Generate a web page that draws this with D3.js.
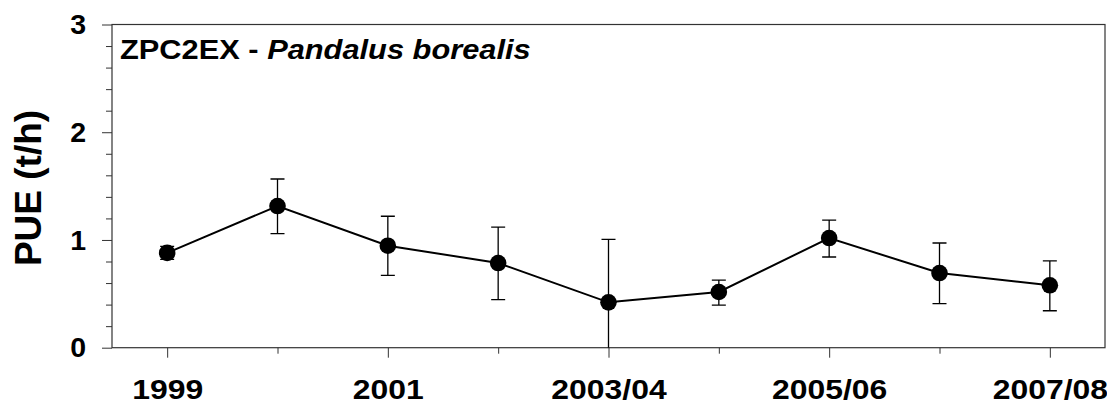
<!DOCTYPE html>
<html>
<head>
<meta charset="utf-8">
<script src="https://cdn.jsdelivr.net/npm/d3@7"></script>
<style>
  html, body { margin: 0; padding: 0; background: #fff; }
  svg { display: block; }
  text { font-family: "Liberation Sans", Arial, sans-serif; font-weight: bold; fill: #000; }
</style>
</head>
<body>
<svg id="chart" width="1107" height="402"></svg>
<script>
// ---- data ----
const categories = ["1999", "2000", "2001", "2002", "2003/04", "2004/05", "2005/06", "2006/07", "2007/08"];
const labeledCategories = ["1999", "2001", "2003/04", "2005/06", "2007/08"];
const pue = [0.88, 1.315, 0.947, 0.786, 0.421, 0.517, 1.018, 0.693, 0.579];
const pueUpper = [0.94, 1.566, 1.22, 1.12, 1.006, 0.628, 1.185, 0.972, 0.805];
const pueLower = [0.82, 1.058, 0.672, 0.446, -0.17, 0.396, 0.842, 0.409, 0.343];
const yMajorTicks = [0, 1, 2, 3];
const yMinorTicks = [0.2, 0.4, 0.6, 0.8, 1.2, 1.4, 1.6, 1.8, 2.2, 2.4, 2.6, 2.8];
const titleCode = "ZPC2EX - ";
const titleSpecies = "Pandalus borealis";
const yTitle = "PUE (t/h)";

// ---- layout ----
const svg = d3.select("#chart");
const L = 112, R = 1105, T = 24.5, B = 347.7;
const axisColor = "#333";

const x = d3.scaleLinear().domain([-0.5, categories.length - 0.5]).range([L, R]);
const y = d3.scaleLinear().domain([0, 3]).range([B, T]);

const idx = categories.map((d, i) => i);
const majorIdx = idx.filter(i => labeledCategories.includes(categories[i]));
const minorIdx = idx.filter(i => !labeledCategories.includes(categories[i]));

// x axis major
const gxMaj = svg.append("g").attr("transform", `translate(0,${B})`)
  .call(d3.axisBottom(x).tickValues(majorIdx).tickSize(10).tickPadding(21.5)
        .tickFormat(i => categories[i]));
gxMaj.select(".domain").remove();
gxMaj.selectAll("line").attr("stroke", axisColor);
gxMaj.selectAll("text").style("font-size", "28.5px").attr("fill", "#000")
  .attr("transform", "scale(1.12,1)");

const gxMin = svg.append("g").attr("transform", `translate(0,${B})`)
  .call(d3.axisBottom(x).tickValues(minorIdx).tickSize(6).tickFormat(""));
gxMin.select(".domain").remove();
gxMin.selectAll("line").attr("stroke", axisColor);

// y axis
const gyMaj = svg.append("g").attr("transform", `translate(${L},0)`)
  .call(d3.axisLeft(y).tickValues(yMajorTicks).tickSize(10).tickPadding(16)
        .tickFormat(d3.format("d")));
gyMaj.select(".domain").remove();
gyMaj.selectAll("line").attr("stroke", axisColor);
gyMaj.selectAll("text").style("font-size", "28.5px").attr("fill", "#000");

const gyMin = svg.append("g").attr("transform", `translate(${L},0)`)
  .call(d3.axisLeft(y).tickValues(yMinorTicks).tickSize(6).tickFormat(""));
gyMin.select(".domain").remove();
gyMin.selectAll("line").attr("stroke", axisColor);

// frame
svg.append("rect").attr("x", L).attr("y", T).attr("width", R - L).attr("height", B - T)
  .attr("fill", "none").attr("stroke", axisColor).attr("stroke-width", 1.2);

// clip
svg.append("clipPath").attr("id", "plotclip").append("rect")
  .attr("x", L).attr("y", T).attr("width", R - L).attr("height", B - T);

const plot = svg.append("g").attr("clip-path", "url(#plotclip)");

// error bars
const capW = 7;
const eb = plot.append("g").attr("stroke", "#000").attr("stroke-width", 1.3);
idx.forEach(i => {
  eb.append("line").attr("x1", x(i)).attr("x2", x(i)).attr("y1", y(pueLower[i])).attr("y2", y(pueUpper[i]));
  eb.append("line").attr("x1", x(i) - capW).attr("x2", x(i) + capW).attr("y1", y(pueUpper[i])).attr("y2", y(pueUpper[i]));
  eb.append("line").attr("x1", x(i) - capW).attr("x2", x(i) + capW).attr("y1", y(pueLower[i])).attr("y2", y(pueLower[i]));
});

// line
plot.append("path").datum(idx)
  .attr("fill", "none").attr("stroke", "#000").attr("stroke-width", 2)
  .attr("d", d3.line().x(i => x(i)).y(i => y(pue[i])));

// points
plot.append("g").selectAll("circle").data(idx).join("circle")
  .attr("cx", i => x(i)).attr("cy", i => y(pue[i])).attr("r", 8.3).attr("fill", "#000");

// title
const t = svg.append("text").attr("transform", "translate(120,58.5) scale(1.1,1)")
  .style("font-size", "28px");
t.append("tspan").text(titleCode);
t.append("tspan").style("font-style", "italic").text(titleSpecies);

// y title
svg.append("text")
  .attr("transform", `translate(41,${(108 + 268) / 2}) rotate(-90)`)
  .attr("text-anchor", "middle")
  .style("font-size", "37px")
  .text(yTitle);
</script>
</body>
</html>
